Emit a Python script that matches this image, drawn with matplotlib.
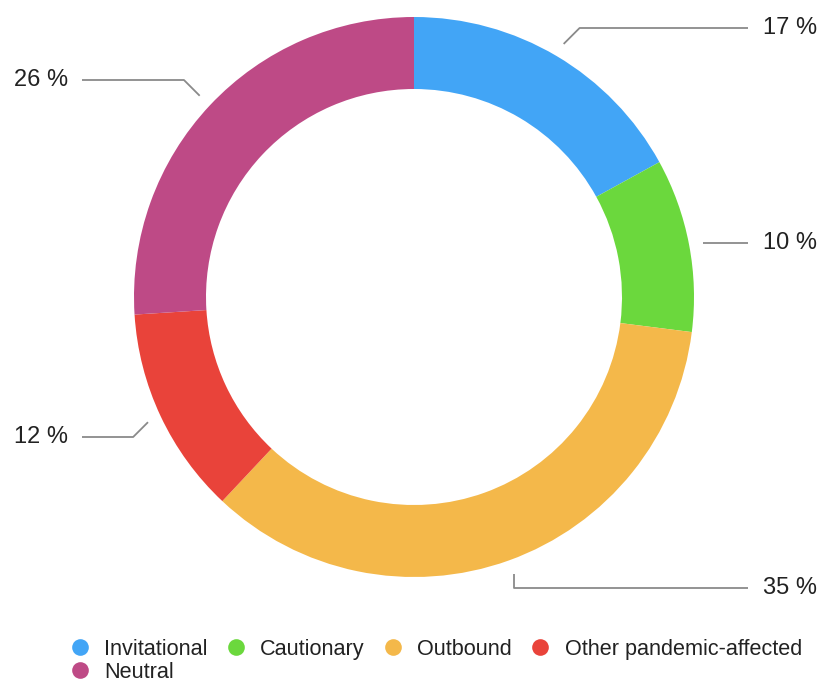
import numpy as np
import matplotlib.pyplot as plt

plt.rcParams['font.family'] = ['Liberation Sans', 'DejaVu Sans']

categories = ["Invitational", "Cautionary", "Outbound", "Other pandemic-affected", "Neutral"]
shares = [17, 10, 35, 12, 26]
colors = ["#42a5f6", "#6bd83d", "#f4b84a", "#e9433a", "#be4a86"]

# label layout (pixel rows from the top) and whether the leader line bends at 45 degrees
label_rows = [28, 243, 588, 437, 80]
slanted = [True, False, False, True, True]

W, H = 823, 682
fig = plt.figure(figsize=(W / 100, H / 100), dpi=100)
ax = fig.add_axes([0, 0, 1, 1])

cx, cy, R = 414, H - 297, 280
wedges, _ = ax.pie(shares, colors=colors, startangle=90, counterclock=False,
                   radius=R, center=(cx, cy),
                   wedgeprops=dict(width=72, edgecolor="none"))

line_col = "#8a8a8a"
for w, val, row, sl in zip(wedges, shares, label_rows, slanted):
    mid = np.deg2rad((w.theta1 + w.theta2) / 2)
    ax0 = cx + (R + 14) * np.cos(mid)
    ay0 = cy + (R + 14) * np.sin(mid)
    ly = H - row
    side = 1 if np.cos(mid) > 0 else -1
    dy = abs(ly - ay0)
    if sl:
        ex = ax0 + side * dy
    else:
        ex = ax0
        if dy < 3:
            ay0 = ly
    if side > 0:
        xs = [ax0, ex, 748]
        ax.text(763, ly, f"{val} %", ha="left", va="center", fontsize=17, color="#222222")
    else:
        xs = [ax0, ex, 82]
        ax.text(68, ly, f"{val} %", ha="right", va="center", fontsize=17, color="#222222")
    ax.plot(xs, [ay0, ly, ly], color=line_col, lw=1.3, solid_capstyle="butt")

ax.set_xlim(0, W)
ax.set_ylim(0, H)
ax.set_aspect("auto")
ax.axis("off")

# row-major order for a 4-column legend
order = [0, 4, 1, 2, 3]
handles = [plt.Line2D([], [], marker="o", ls="none", markersize=12,
                      markerfacecolor=colors[i], markeredgecolor="none") for i in order]
labels = [categories[i] for i in order]
fig.legend(handles, labels, ncol=4, loc="upper left", bbox_to_anchor=(58 / W, 1 - 628 / H),
           frameon=False, fontsize=15.6, handletextpad=0.64, columnspacing=0.78,
           labelspacing=0.08, borderpad=0, handlelength=1.0, labelcolor="#222222")

fig.savefig("out.png", dpi=100)
